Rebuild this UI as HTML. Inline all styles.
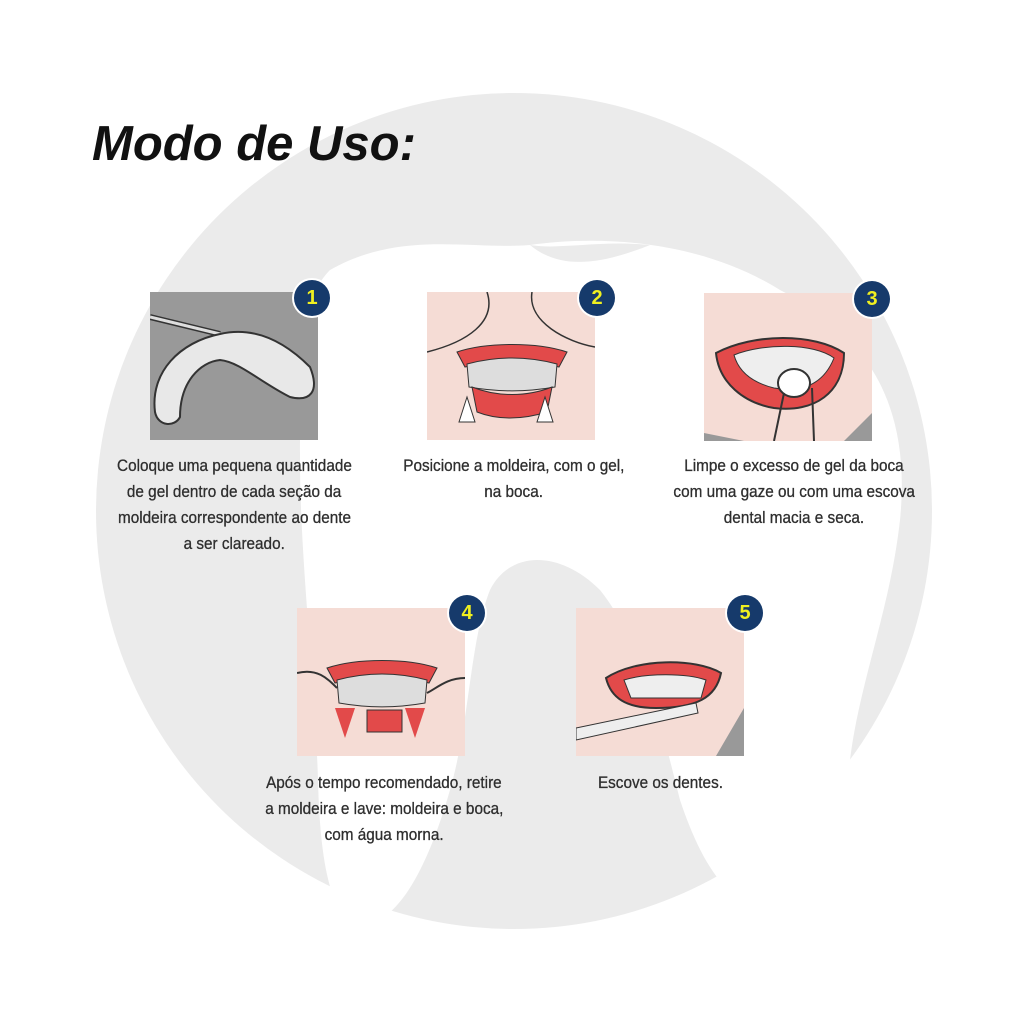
<!DOCTYPE html>
<html><head><meta charset="utf-8"><style>
body{margin:0;width:1024px;height:1024px;background:#fff;position:relative;overflow:hidden;font-family:"Liberation Sans",sans-serif}
.t{position:absolute;color:#2e2e2e;font-size:17px;text-align:center;line-height:26px;font-family:"Liberation Sans",sans-serif;-webkit-text-stroke:0.3px #2e2e2e}
.t span{display:inline-block;transform:scaleX(0.9);white-space:nowrap}
.p{position:absolute;width:168px;height:148px;overflow:hidden}
.b{position:absolute;width:36px;height:36px;border-radius:50%;background:#163a6b;color:#f0f020;font:bold 20px "Liberation Sans",sans-serif;text-align:center;line-height:36px;box-shadow:0 0 0 2px #fff}
h1{position:absolute;left:92px;top:116px;margin:0;font:italic bold 49px "Liberation Sans",sans-serif;color:#111}
</style></head><body>
<svg width="1024" height="1024" style="position:absolute;left:0;top:0">
<circle cx="514" cy="511" r="418" fill="#ebebeb"/>
<path d="M330 270 C400 230 470 250 530 245 C600 235 700 240 780 290 C880 340 910 420 900 520 C890 610 860 680 850 760 C840 840 820 900 780 910 C730 915 700 860 680 800 C660 720 640 640 600 590 C560 550 510 550 490 590 C470 640 470 720 450 790 C430 860 400 925 360 925 C330 920 320 860 318 780 C315 680 300 560 300 460 C300 360 300 300 330 270 Z" fill="#fff"/>
<path d="M530 245 C560 250 600 240 650 245 C600 265 560 270 530 245Z" fill="#ebebeb"/>
</svg>
<h1>Modo de Uso:</h1>

<div class="p" style="left:150px;top:292px;background:#999">
<svg width="168" height="148"><path d="M0 25 L70 42" stroke="#333" stroke-width="6"/><path d="M0 25 L70 42" stroke="#ddd" stroke-width="3"/>
<path d="M5 120 C0 80 30 50 70 42 C100 35 130 45 160 75 C170 100 160 110 140 105 C110 90 90 70 70 68 C50 70 30 90 30 125 C25 135 8 135 5 120Z" fill="#e8e8e8" stroke="#333" stroke-width="2"/></svg></div>
<div class="b" style="left:294px;top:280px">1</div>

<div class="p" style="left:427px;top:292px;background:#f5dcd5">
<svg width="168" height="148"><path d="M30 60 C60 50 110 50 140 60 L132 75 C100 68 70 68 38 75Z" fill="#e24a4a" stroke="#333"/>
<path d="M40 72 C70 64 100 64 130 72 L128 95 C100 100 70 100 42 95Z" fill="#ddd" stroke="#333"/>
<path d="M45 95 C70 105 100 105 125 95 L120 120 C95 128 70 128 50 120Z" fill="#e24a4a" stroke="#333"/>
<path d="M32 130 L40 105 L48 130Z M110 130 L118 105 L126 130Z" fill="#fff" stroke="#333"/>
<path d="M60 0 C70 30 40 50 0 60 M105 0 C100 30 140 50 168 55" stroke="#333" fill="none" stroke-width="1.5"/></svg></div>
<div class="b" style="left:579px;top:280px">2</div>

<div class="p" style="left:704px;top:293px;background:#f5dcd5">
<svg width="168" height="148"><path d="M12 60 C50 40 110 40 140 60 C140 100 110 120 70 115 C40 110 15 90 12 60Z" fill="#e24a4a" stroke="#333" stroke-width="2"/>
<path d="M30 62 C60 50 110 50 130 65 C120 90 100 100 70 95 C50 90 35 80 30 62Z" fill="#eee" stroke="#333"/>
<ellipse cx="90" cy="90" rx="16" ry="14" fill="#fff" stroke="#333" stroke-width="2"/>
<path d="M80 100 L70 148 M108 95 L110 148" stroke="#333" fill="none" stroke-width="2"/>
<path d="M0 148 L0 140 L40 148Z M168 148 L168 120 L140 148Z" fill="#999"/></svg></div>
<div class="b" style="left:854px;top:281px">3</div>

<div class="p" style="left:297px;top:608px;background:#f5dcd5">
<svg width="168" height="148"><path d="M30 60 C60 50 110 50 140 60 L132 75 C100 68 70 68 38 75Z" fill="#e24a4a" stroke="#333"/>
<path d="M40 72 C70 64 100 64 130 72 L128 95 C100 100 70 100 42 95Z" fill="#ddd" stroke="#333"/>
<rect x="70" y="102" width="35" height="22" fill="#e24a4a" stroke="#333"/>
<path d="M38 100 L48 130 L58 100Z M108 100 L118 130 L128 100Z" fill="#e24a4a"/>
<path d="M0 65 C20 60 30 70 40 80 M168 70 C150 70 140 80 130 85" stroke="#333" fill="none" stroke-width="2"/></svg></div>
<div class="b" style="left:449px;top:595px">4</div>

<div class="p" style="left:576px;top:608px;background:#f5dcd5">
<svg width="168" height="148"><path d="M30 70 C60 50 120 50 145 65 C140 90 120 100 80 100 C50 100 35 90 30 70Z" fill="#e24a4a" stroke="#333" stroke-width="2"/>
<path d="M48 72 C70 65 110 65 130 72 L125 90 L55 90Z" fill="#eee" stroke="#333"/>
<path d="M0 120 L120 95 L122 105 L0 132Z" fill="#eee" stroke="#333"/>
<path d="M140 148 L168 100 L168 148Z" fill="#999"/></svg></div>
<div class="b" style="left:727px;top:595px">5</div>

<div class="t" style="left:80px;top:453px;width:308px"><span>Coloque uma pequena quantidade</span><br><span>de gel dentro de cada seção da</span><br><span>moldeira correspondente ao dente</span><br><span>a ser clareado.</span></div>
<div class="t" style="left:360px;top:453px;width:308px"><span>Posicione a moldeira, com o gel,</span><br><span>na boca.</span></div>
<div class="t" style="left:640px;top:453px;width:308px"><span>Limpe o excesso de gel da boca</span><br><span>com uma gaze ou com uma escova</span><br><span>dental macia e seca.</span></div>
<div class="t" style="left:230px;top:770px;width:308px"><span>Após o tempo recomendado, retire</span><br><span>a moldeira e lave: moldeira e boca,</span><br><span>com água morna.</span></div>
<div class="t" style="left:506px;top:770px;width:308px"><span>Escove os dentes.</span></div>
</body></html>
